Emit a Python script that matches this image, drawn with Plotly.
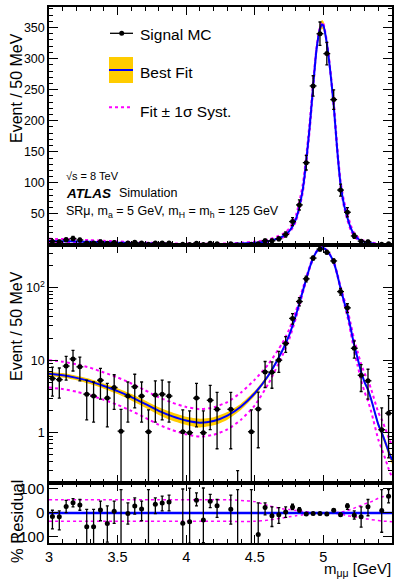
import plotly.graph_objects as go

# ---------------- data ----------------
bin_centers = [3.025, 3.075, 3.125, 3.175, 3.225, 3.275, 3.325, 3.375, 3.425, 3.475,
               3.525, 3.575, 3.625, 3.675, 3.725, 3.775, 3.825, 3.875, 3.925, 3.975,
               4.025, 4.075, 4.125, 4.175, 4.225, 4.275, 4.325, 4.375, 4.425, 4.475,
               4.525, 4.575, 4.625, 4.675, 4.725, 4.775, 4.825, 4.875, 4.925, 4.975,
               5.025, 5.075, 5.125, 5.175, 5.225, 5.275, 5.325, 5.375, 5.425, 5.475]

signal_mc = [5.6, 5.4, 8.3, 10.4, 8.1, 3.4, 3.2, 5.3, 3.0, 4.2,
             1.05, 3.2, 4.3, 3.2, 1.03, 3.3, 3.4, 3.2, None, 1.03,
             1.0, 3.0, 1.0, 2.8, 2.1, None, 2.1, 0.1, None, 1.03,
             2.12, 6.9, 6.8, 10.0, 17.0, 37.7, 64.5, 132.5, 256, 340,
             308, 234, 88.4, 52.7, 14.6, 6.2, 5.2, None, 1.1, 1.85]

signal_err = [2.4, 2.4, 3.0, 3.3, 2.9, 1.9, 1.8, 2.4, 1.8, 2.1,
              1.05, 1.8, 2.1, 1.8, 1.03, 1.9, 1.9, 1.8, None, 1.03,
              1.0, 1.8, 1.0, 1.7, 1.5, None, 1.5, 0.2, None, 1.03,
              1.5, 2.7, 2.7, 3.2, 4.2, 6.3, 8.2, 11.8, 16.4, 18.9,
              18.0, 15.7, 9.6, 7.4, 3.9, 2.5, 2.3, None, 1.1, 1.4]

residual = [-15, -16, 27, 42, 33, -58, -58, 12, -44, 7,
            -200, -3, 29, 16, -200, 36, 41, 45, None, -43,
            -37, 53, -30, 49, 30, None, 15, -200, None, -200,
            -90, 22, -12, -8, 4, 25, 12, -5, -3, -3,
            -5, 11, -8, 29, -10, -16, 26, None, 10, 70]

residual_err_up = [26, 24, 25, 18, 23, 73, 73, 37, 73, 42,
                   297, 45, 34, 33, 297, 27, 29, 29, None, 143,
                   140, 31, 134, 28, 26, None, 59, 297, None, 297,
                   132, 20, 37, 30, 21, 11, 10, 5, 4, 4,
                   4, 5, 7, 9, 18, 41, 30, None, 87, 27]

residual_err_dn = [52, 55, 26, 17, 22, 80, 80, 45, 78, 51,
                   0, 44, 34, 49, 0, 39, 33, 37, None, 90,
                   90, 24, 95, 27, 49, None, 62, 0, None, 0,
                   60, 30, 45, 36, 23, 11, 9, 5, 4, 4,
                   4, 5, 7, 14, 16, 44, 38, None, 91, 28]

fit_x = [3.0, 3.1, 3.2, 3.3, 3.4, 3.5, 3.6, 3.7, 3.8, 3.9, 4.0, 4.1, 4.2, 4.3, 4.4, 4.5,
         4.6, 4.7, 4.75, 4.8, 4.85, 4.9, 4.925, 4.95, 4.975, 4.99, 5.0, 5.025, 5.05,
         5.075, 5.1, 5.125, 5.15, 5.175, 5.2, 5.225, 5.25, 5.275, 5.3, 5.325, 5.35,
         5.4, 5.425, 5.45, 5.475, 5.5]

fit_y = [6.5, 6.2, 5.7, 5.1, 4.4, 3.75, 3.1, 2.5, 2.0, 1.68, 1.47, 1.37, 1.45, 1.72, 2.3, 3.5,
         6.2, 13.5, 22, 42, 90, 190, 255, 315, 348, 355, 353, 325, 280,
         225, 155, 98, 65, 44, 27, 16, 10.5, 6.9, 5.0, 3.9, 2.8,
         1.3, 1.0, 0.75, 0.55, 0.42]

fit_band_rel = [0.07, 0.07, 0.07, 0.08, 0.08, 0.09, 0.10, 0.11, 0.12, 0.13, 0.13, 0.14, 0.13, 0.12, 0.10, 0.08,
                0.06, 0.04, 0.03, 0.025, 0.02, 0.02, 0.02, 0.02, 0.02, 0.02, 0.02, 0.02, 0.02,
                0.02, 0.02, 0.02, 0.025, 0.025, 0.03, 0.035, 0.04, 0.045, 0.05, 0.06, 0.065,
                0.08, 0.09, 0.10, 0.11, 0.12]

syst_up_ratio = [1.54, 1.54, 1.54, 1.54, 1.54, 1.54, 1.54, 1.54, 1.54, 1.54, 1.54, 1.54, 1.54, 1.54, 1.56, 1.54,
                 1.43, 1.27, 1.20, 1.14, 1.09, 1.04, 1.03, 1.01, 1.01, 1.01, 1.01, 1.01, 1.01,
                 1.03, 1.04, 1.05, 1.09, 1.14, 1.16, 1.19, 1.23, 1.28, 1.32, 1.35, 1.39,
                 1.47, 1.52, 1.54, 1.56, 1.59]

syst_dn_ratio = [0.645, 0.645, 0.645, 0.645, 0.645, 0.645, 0.645, 0.645, 0.645, 0.645, 0.645, 0.645, 0.645, 0.645, 0.658, 0.68,
                 0.77, 0.85, 0.877, 0.91, 0.943, 0.97, 0.98, 1.0, 1.0, 1.0, 1.0, 1.0, 1.0,
                 0.99, 0.98, 0.97, 0.943, 0.91, 0.87, 0.833, 0.794, 0.763, 0.73, 0.704, 0.68,
                 0.62, 0.60, 0.59, 0.58, 0.575]

x_tick_vals = [3, 3.5, 4, 4.5, 5, 5.5]
x_tick_text = ["3", "3.5", "4", "4.5", "5", "5.5"]
top_y_ticks = [50, 100, 150, 200, 250, 300, 350]
log_y_ticks = [1, 10, 100]
log_y_text = ["1", "10", "10<sup>2</sup>"]
res_y_ticks = [-100, 0, 100]

# derived curves
band_lo = [f * (1 - r) for f, r in zip(fit_y, fit_band_rel)]
band_hi = [f * (1 + r) for f, r in zip(fit_y, fit_band_rel)]
syst_hi = [f * r for f, r in zip(fit_y, syst_up_ratio)]
syst_lo = [f * r for f, r in zip(fit_y, syst_dn_ratio)]
res_syst_hi = [(1.0 / r - 1.0) * 100 for r in syst_dn_ratio]
res_syst_lo = [(1.0 / r - 1.0) * 100 for r in syst_up_ratio]
res_fit = [0.0 for _ in fit_x]

# ---------------- styling ----------------
W, H = 402, 579
ML, MR, MT, MB = 49, 10, 7, 36
PW, PH = W - ML - MR, H - MT - MB
FONT = "Liberation Sans, Arial, Helvetica, sans-serif"
YELLOW = "#FFCC00"
BLUE = "#0000FF"
MAGENTA = "#FF00FF"


def px_x(px):
    return (px - ML) / PW


def px_y(py):
    return (H - MB - py) / PH


fig = go.Figure()


def add_panel(xa, ya):
    fig.add_trace(go.Scatter(x=fit_x, y=band_lo, mode="lines", line=dict(width=0, shape="spline", smoothing=0.6),
                             xaxis=xa, yaxis=ya, showlegend=False, hoverinfo="skip"))
    fig.add_trace(go.Scatter(x=fit_x, y=band_hi, mode="lines", line=dict(width=0, shape="spline", smoothing=0.6),
                             fill="tonexty", fillcolor=YELLOW, xaxis=xa, yaxis=ya, showlegend=False,
                             hoverinfo="skip"))
    for s in (syst_hi, syst_lo):
        fig.add_trace(go.Scatter(x=fit_x, y=s, mode="lines",
                                 line=dict(color=MAGENTA, width=2, dash="dot", shape="spline", smoothing=0.6),
                                 xaxis=xa, yaxis=ya, showlegend=False))
    fig.add_trace(go.Scatter(x=fit_x, y=fit_y, mode="lines",
                             line=dict(color=BLUE, width=2, shape="spline", smoothing=0.6),
                             xaxis=xa, yaxis=ya, showlegend=False))
    fig.add_trace(go.Scatter(x=bin_centers, y=signal_mc, mode="markers",
                             marker=dict(color="black", size=5),
                             error_y=dict(type="data", array=signal_err, visible=True, color="black",
                                          thickness=1.3, width=1.5),
                             error_x=dict(type="constant", value=0.025, visible=True, color="black",
                                          thickness=1.3, width=0),
                             xaxis=xa, yaxis=ya, showlegend=False))


add_panel("x", "y")
add_panel("x2", "y2")

# residual panel
for s in (res_syst_hi, res_syst_lo):
    fig.add_trace(go.Scatter(x=fit_x, y=s, mode="lines",
                             line=dict(color=MAGENTA, width=1.5, dash="dot", shape="spline", smoothing=0.6),
                             xaxis="x3", yaxis="y3", showlegend=False))
fig.add_trace(go.Scatter(x=fit_x, y=res_fit, mode="lines", line=dict(color=BLUE, width=2.5),
                         xaxis="x3", yaxis="y3", showlegend=False))
fig.add_trace(go.Scatter(x=bin_centers, y=residual, mode="markers",
                         marker=dict(color="black", size=5),
                         error_y=dict(type="data", symmetric=False, array=residual_err_up,
                                      arrayminus=residual_err_dn, visible=True, color="black",
                                      thickness=1.3, width=1.5),
                         xaxis="x3", yaxis="y3", showlegend=False))

# ---------------- axes ----------------
top_dom = [px_y(245), 1.0]
mid_dom = [px_y(483), px_y(245)]
res_dom = [0.0, px_y(483)]

xcommon = dict(range=[3, 5.5], showgrid=False, zeroline=False, showline=True, linecolor="black",
               linewidth=1.5, mirror="allticks", ticks="inside", ticklen=8, tickwidth=1,
               tickcolor="black", tickvals=x_tick_vals, ticktext=x_tick_text,
               minor=dict(ticks="inside", ticklen=4, tickwidth=1, tickcolor="black", dtick=0.1, tick0=3,
                          showgrid=False))
ycommon = dict(showgrid=False, zeroline=False, showline=True, linecolor="black", linewidth=1.5,
               mirror="allticks", ticks="inside", ticklen=9, tickwidth=1, tickcolor="black",
               tickfont=dict(family=FONT, size=12.5, color="black"))

fig.update_layout(
    width=W, height=H,
    margin=dict(l=ML, r=MR, t=MT, b=MB, autoexpand=False),
    paper_bgcolor="white", plot_bgcolor="white",
    font=dict(family=FONT, color="black"),
    showlegend=False,
    xaxis=dict(xcommon, anchor="y", showticklabels=False),
    xaxis2=dict(xcommon, anchor="y2", showticklabels=False, matches="x"),
    xaxis3=dict(xcommon, anchor="y3", showticklabels=True, matches="x",
                tickfont=dict(family=FONT, size=14.5, color="black")),
    yaxis=dict(ycommon, domain=top_dom, anchor="x", range=[0, 383], tickvals=top_y_ticks,
               minor=dict(ticks="inside", ticklen=4.5, tickwidth=1, tickcolor="black", dtick=10, tick0=0,
                          showgrid=False)),
    yaxis2=dict(ycommon, domain=mid_dom, anchor="x2", type="log", range=[-0.694, 2.589],
                tickvals=log_y_ticks, ticktext=log_y_text,
                minor=dict(ticks="inside", ticklen=4.5, tickwidth=1, tickcolor="black", showgrid=False,
                           tickvals=[0.2, 0.3, 0.4, 0.5, 0.6, 0.7, 0.8, 0.9, 2, 3, 4, 5, 6, 7, 8, 9,
                                     20, 30, 40, 50, 60, 70, 80, 90, 200, 300])),
    yaxis3=dict(ycommon, domain=res_dom, anchor="x3", range=[-126, 125], tickvals=res_y_ticks,
                ticktext=["\u2212100", "0", "100"],
                tickfont=dict(family=FONT, size=15, color="black")),
)

# ---------------- legend (drawn manually) ----------------
shapes = [
    dict(type="line", xref="paper", yref="paper", x0=px_x(110), x1=px_x(133), y0=px_y(33.3), y1=px_y(33.3),
         line=dict(color="black", width=1.3)),
    dict(type="circle", xref="paper", yref="paper", x0=px_x(119.2), x1=px_x(124.2), y0=px_y(35.8),
         y1=px_y(30.8), fillcolor="black", line=dict(color="black", width=0)),
    dict(type="rect", xref="paper", yref="paper", x0=px_x(109), x1=px_x(133), y0=px_y(83), y1=px_y(57),
         fillcolor=YELLOW, line=dict(width=0)),
    dict(type="line", xref="paper", yref="paper", x0=px_x(109), x1=px_x(133), y0=px_y(70), y1=px_y(70),
         line=dict(color=BLUE, width=2)),
    dict(type="line", xref="paper", yref="paper", x0=px_x(109), x1=px_x(133), y0=px_y(107.3),
         y1=px_y(107.3), line=dict(color=MAGENTA, width=2, dash="dot")),
]
fig.update_layout(shapes=shapes)


def ann(text, px, py, size, xanchor="left", yanchor="middle", angle=0):
    fig.add_annotation(text=text, x=px_x(px), y=px_y(py), xref="paper", yref="paper",
                       xanchor=xanchor, yanchor=yanchor, showarrow=False, textangle=angle,
                       font=dict(family=FONT, size=size, color="black"))


ann("Signal MC", 138, 34.5, 15.5)
ann("Best Fit", 138, 73, 15.5)
ann("Fit \u00b1 1\u03c3 Syst.", 138, 111, 15.5)
ann("\u221As = 8 TeV", 64, 176, 11)
ann("<b><i>ATLAS</i></b>", 64, 193.5, 13.5)
ann("Simulation", 117, 193.5, 12.5)
ann("SR\u03bc, m<sub>a</sub> = 5 GeV, m<sub>H</sub> = m<sub>h</sub> = 125 GeV", 64, 212, 12.5)
ann("Event / 50 MeV", 16, 88, 16, xanchor="center", angle=-90)
ann("Event / 50 MeV", 16, 326, 16, xanchor="center", angle=-90)
ann("% Residual", 17, 522, 16.5, xanchor="center", angle=-90)
ann("m<sub>\u03bc\u03bc</sub> [GeV]", 393, 569.5, 15, xanchor="right")

fig.write_html("out.html", config={"displayModeBar": False},
               post_script=["document.body.style.margin='0';document.body.style.padding='0';"])
